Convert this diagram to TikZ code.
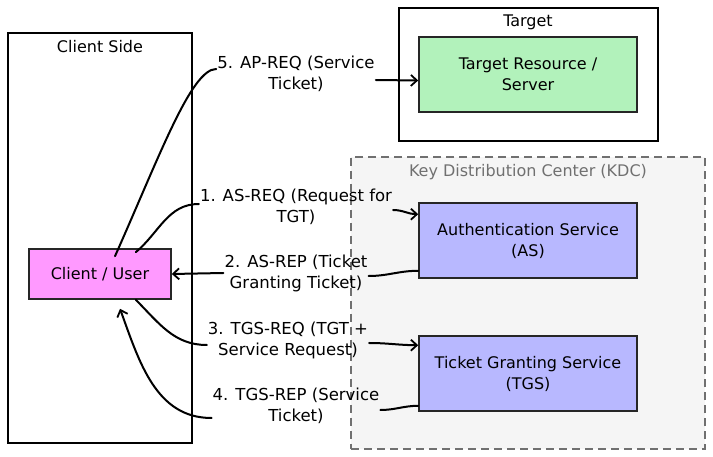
\documentclass[tikz,border=0pt]{standalone}
\usepackage{fontspec}
\setmainfont{DejaVu Sans}
\usetikzlibrary{arrows.meta}
\definecolor{clientfill}{HTML}{FF99FF}
\definecolor{targetfill}{HTML}{B2F2BB}
\definecolor{kdcfill}{HTML}{F5F5F5}
\definecolor{svcfill}{HTML}{B8B8FF}
\definecolor{kdcline}{HTML}{707070}
\tikzset{
  container/.style={draw=black, line width=2pt, fill=white},
  kdcbox/.style={draw=kdcline, line width=1.8pt, dash pattern=on 8pt off 5pt, fill=kdcfill},
  procbox/.style={draw=black!85, line width=1.6pt},
  title/.style={font=\fontsize{16}{19}\selectfont},
  boxtext/.style={align=center, font=\fontsize{16}{21}\selectfont},
  lbl/.style={align=center, font=\fontsize{16.5}{21}\selectfont, inner sep=1pt},
  conn/.style={line width=2pt, line cap=round},
  arr/.style={conn, -{Straight Barb[length=6pt,width=11pt,line width=1.8pt]}},
}
\begin{document}
\begin{tikzpicture}[x=1pt,y=-1pt]
\useasboundingbox (0,0) rectangle (713,457);
% containers
\node[container, minimum width=184pt, minimum height=410pt] (cs) at (100,238) {};
\node[title] (cst) at (100,47) {Client Side};
\node[container, minimum width=259pt, minimum height=133pt] (tg) at (528.5,74.5) {};
\node[title] (tgt) at (528,22) {Target};
\node[kdcbox, minimum width=354pt, minimum height=292pt] (kdc) at (528,303) {};
\node[title, text=kdcline] (kdct) at (528,172) {Key Distribution Center (KDC)};
% process nodes
\node[procbox, fill=clientfill, minimum width=142pt, minimum height=50pt, title] (cu) at (100,274) {Client / User};
\node[procbox, fill=targetfill, minimum width=218pt, minimum height=75pt, boxtext] (tr) at (528,74.5) {Target Resource /\\Server};
\node[procbox, fill=svcfill, minimum width=218pt, minimum height=75pt, boxtext] (as) at (528,240.5) {Authentication Service\\(AS)};
\node[procbox, fill=svcfill, minimum width=218pt, minimum height=75pt, boxtext] (tgs) at (528,373.5) {Ticket Granting Service\\(TGS)};
% labels
\node[lbl] (l5) at (296,74) {5. AP-REQ (Service\\Ticket)};
\node[lbl] (l1) at (296,207) {1. AS-REQ (Request for\\TGT)};
\node[lbl] (l2) at (296,273) {2. AS-REP (Ticket\\Granting Ticket)};
\node[lbl] (l3) at (288,340) {3. TGS-REQ (TGT +\\Service Request)};
\node[lbl] (l4) at (296,406) {4. TGS-REP (Service\\Ticket)};
% connectors
\draw[conn] ([xshift=15pt,yshift=-8pt]cu.north) .. controls +(-66:110) and +(180:25) .. ([yshift=5pt]l5.west);
\draw[arr] ([yshift=-6pt]l5.east) -- ([yshift=-6pt]tr.west);
\draw[conn] ([xshift=-36pt,yshift=-4pt]cu.north east) to[out=40,in=180] ([yshift=3pt]l1.west);
\draw[arr] ([yshift=-3pt]l1.east) to[out=0,in=180] ([yshift=-12pt]as.north west);
\draw[conn] ([yshift=8pt]as.south west) to[out=180,in=0] ([yshift=-3pt]l2.east);
\draw[arr] (l2.west) -- (cu.east);
\draw[conn] ([xshift=-36pt]cu.south east) to[out=-45,in=180] ([yshift=-5pt]l3.west);
\draw[arr] ([yshift=-3pt]l3.east) to[out=0,in=180] ([yshift=-10pt]tgs.north west);
\draw[conn] ([yshift=6pt]tgs.south west) to[out=180,in=0] ([yshift=-4pt]l4.east);
\draw[arr] ([yshift=-12pt]l4.west) to[out=180,in=-70] ([xshift=20pt,yshift=-9pt]cu.south);
\end{tikzpicture}
\end{document}
